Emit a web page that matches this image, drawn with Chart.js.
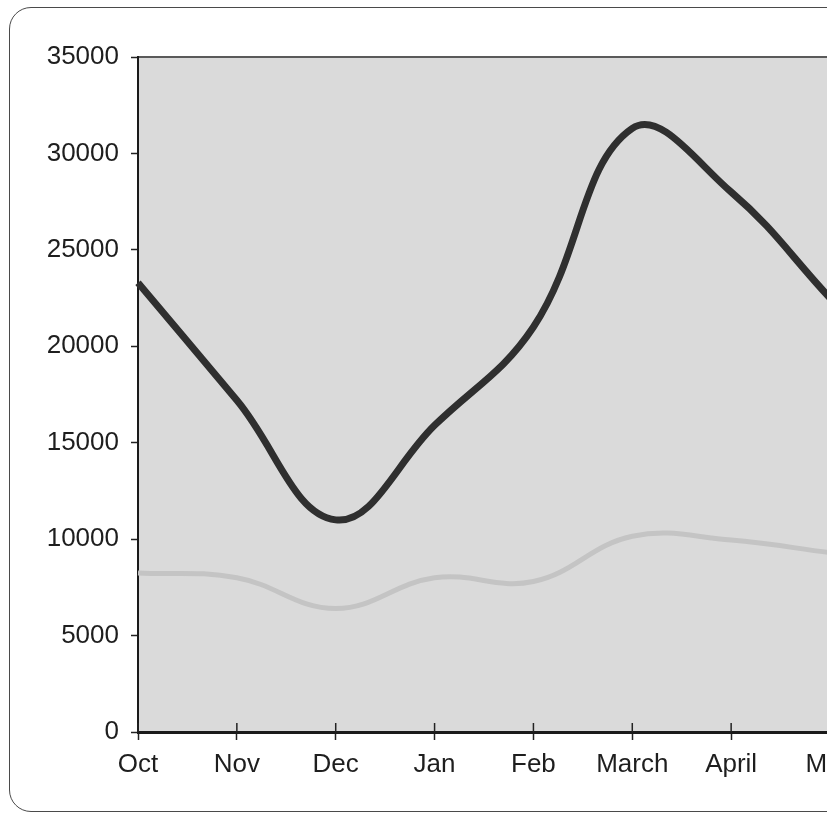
<!DOCTYPE html>
<html>
<head>
<meta charset="utf-8">
<script src="https://cdn.jsdelivr.net/npm/chart.js@4.4.1/dist/chart.umd.min.js"></script>
<style>
  html, body { margin: 0; padding: 0; background: #fff; }
  #clip  { position: relative; width: 827px; height: 815px; overflow: hidden; background: #fff; }
  #frame { position: absolute; left: 9px; top: 7px; width: 1000px; height: 805px;
           border: 1.5px solid #4a4a4a; border-radius: 22px; box-sizing: border-box; }
  #wrap  { position: absolute; left: 0; top: 0; width: 900px; height: 815px; }
</style>
</head>
<body>
<div id="clip">
  <div id="frame"></div>
  <div id="wrap"><canvas id="chart"></canvas></div>
</div>
<script>
// ── data ──────────────────────────────────────────────
const months      = ['Oct', 'Nov', 'Dec', 'Jan', 'Feb', 'March', 'April', 'May'];
const darkSeries  = [23300, 17200, 11000, 15900, 21000, 31300, 28000, 22500];
const lightSeries = [8250, 8000, 6400, 8000, 7800, 10150, 9950, 9300];
const yMin = 0, yMax = 35000, yStep = 5000;

const FONT = "'Liberation Sans', Arial, sans-serif";

// grey plot area + thin top frame line
const plotBg = {
  id: 'plotBg',
  beforeDraw(chart) {
    const { ctx, chartArea: a } = chart;
    ctx.save();
    ctx.fillStyle = '#dadada';
    ctx.fillRect(a.left, a.top, a.right - a.left, a.bottom - a.top);
    ctx.strokeStyle = '#5a5a5a';
    ctx.lineWidth = 2;
    ctx.beginPath();
    ctx.moveTo(a.left, a.top);
    ctx.lineTo(a.right, a.top);
    ctx.stroke();
    ctx.restore();
  }
};

// x ticks also poke a little into the plot
const innerTicks = {
  id: 'innerTicks',
  afterDraw(chart) {
    const { ctx, chartArea: a } = chart;
    const x = chart.scales.x;
    ctx.save();
    ctx.strokeStyle = '#222';
    ctx.lineWidth = 1.5;
    x.ticks.forEach((t, i) => {
      const px = x.getPixelForTick(i);
      ctx.beginPath();
      ctx.moveTo(px, a.bottom - 9);
      ctx.lineTo(px, a.bottom);
      ctx.stroke();
    });
    ctx.restore();
  }
};

new Chart(document.getElementById('chart'), {
  type: 'line',
  data: {
    labels: months,
    datasets: [
      { data: lightSeries, borderColor: '#c4c4c4', borderWidth: 5, tension: 0.4, pointRadius: 0 },
      { data: darkSeries,  borderColor: '#2f2f2f', borderWidth: 7, tension: 0.4, pointRadius: 0 }
    ]
  },
  options: {
    responsive: true, maintainAspectRatio: false, animation: false,
    layout: { padding: { top: 57, right: 70, bottom: 23, left: 0 } },
    plugins: { legend: { display: false }, tooltip: { enabled: false } },
    scales: {
      x: {
        offset: false,
        afterFit: s => { s.height = 60; },
        grid: { drawOnChartArea: false, drawTicks: true, tickLength: 8, tickColor: '#222', tickWidth: 1.5 },
        border: { color: '#1a1a1a', width: 3 },
        ticks: { color: '#1e1e1e', font: { family: FONT, size: 26 }, padding: 9, maxRotation: 0, autoSkip: false }
      },
      y: {
        min: yMin, max: yMax,
        afterFit: s => { s.width = 138; },
        grid: { drawOnChartArea: false, drawTicks: true, tickLength: 7, tickColor: '#222', tickWidth: 1.5 },
        border: { color: '#1a1a1a', width: 2 },
        ticks: { stepSize: yStep, color: '#1e1e1e', font: { family: FONT, size: 26 }, padding: 12,
                 callback: v => String(v) }
      }
    }
  },
  plugins: [plotBg, innerTicks]
});
</script>
</body>
</html>
